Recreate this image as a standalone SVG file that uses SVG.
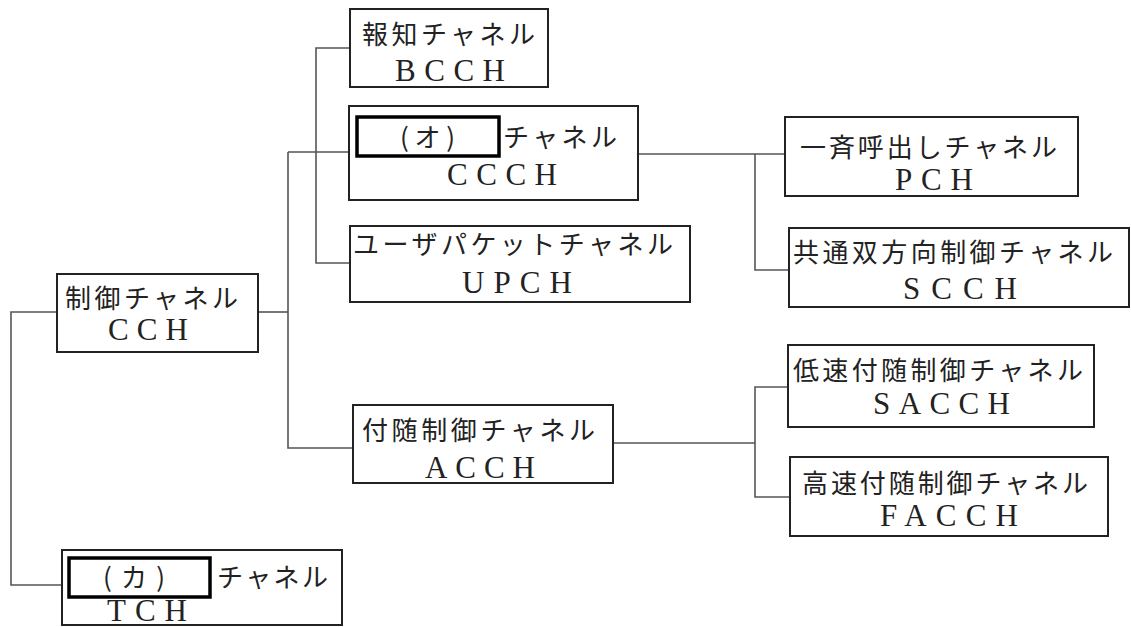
<svg xmlns="http://www.w3.org/2000/svg" width="1131" height="627" viewBox="0 0 1131 627">
<style>
.box{fill:#fff;stroke:#222;stroke-width:2}
.blank{fill:#fff;stroke:#000;stroke-width:3.5}
.jp{font-family:"Noto Sans CJK JP","Noto Sans",sans-serif;font-size:26px;fill:#222}
.en{font-family:"Liberation Serif",serif;font-size:31px;fill:#222}
.conn{fill:none;stroke:#555;stroke-width:1.6}
</style>
<rect width="1131" height="627" fill="#fff"/>
<g id="connectors" class="conn">
<path d="M57,312 H11 V585 H62"/>
<path d="M258,312 H288"/>
<path d="M288,152 V448 H353"/>
<path d="M288,152 H349"/>
<path d="M350,48 H316 V263 H350"/>
<path d="M638,154 H785"/>
<path d="M755,154 V270 H789"/>
<path d="M613,443 H755"/>
<path d="M788,387 H755 V497 H790"/>
</g>
<g id="bcch">
<rect class="box" x="350" y="9" width="198" height="78"/>
<text class="jp" x="362" y="44" textLength="173" lengthAdjust="spacing">報知チャネル</text>
<text class="en" x="395" y="81" textLength="110" lengthAdjust="spacing">BCCH</text>
</g>
<g id="ccch">
<rect class="box" x="349" y="106" width="289" height="94"/>
<rect class="blank" x="357" y="117" width="142" height="39"/>
<text class="jp" x="400" y="147" textLength="55" lengthAdjust="spacing">(オ)</text>
<text class="jp" x="503" y="147" textLength="114" lengthAdjust="spacing">チャネル</text>
<text class="en" x="447" y="185" textLength="110" lengthAdjust="spacing">CCCH</text>
</g>
<g id="upch">
<rect class="box" x="350" y="226" width="340" height="76"/>
<text class="jp" x="353" y="254" textLength="320" lengthAdjust="spacing">ユーザパケットチャネル</text>
<text class="en" x="462" y="293" textLength="110" lengthAdjust="spacing">UPCH</text>
</g>
<g id="pch">
<rect class="box" x="785" y="117" width="293" height="79"/>
<text class="jp" x="800" y="157" textLength="257" lengthAdjust="spacing">一斉呼出しチャネル</text>
<text class="en" x="895" y="190" textLength="78" lengthAdjust="spacing">PCH</text>
</g>
<g id="scch">
<rect class="box" x="789" y="228" width="340" height="79"/>
<text class="jp" x="793" y="262" textLength="320" lengthAdjust="spacing">共通双方向制御チャネル</text>
<text class="en" x="903" y="299" textLength="114" lengthAdjust="spacing">SCCH</text>
</g>
<g id="cch">
<rect class="box" x="57" y="274" width="201" height="78"/>
<text class="jp" x="65" y="308" textLength="173" lengthAdjust="spacing">制御チャネル</text>
<text class="en" x="108" y="340" textLength="80" lengthAdjust="spacing">CCH</text>
</g>
<g id="acch">
<rect class="box" x="353" y="405" width="260" height="78"/>
<text class="jp" x="362" y="440" textLength="233" lengthAdjust="spacing">付随制御チャネル</text>
<text class="en" x="425" y="478" textLength="110" lengthAdjust="spacing">ACCH</text>
</g>
<g id="sacch">
<rect class="box" x="788" y="345" width="306" height="82"/>
<text class="jp" x="793" y="380" textLength="290" lengthAdjust="spacing">低速付随制御チャネル</text>
<text class="en" x="873" y="414" textLength="137" lengthAdjust="spacing">SACCH</text>
</g>
<g id="facch">
<rect class="box" x="790" y="457" width="318" height="79"/>
<text class="jp" x="802" y="493" textLength="286" lengthAdjust="spacing">高速付随制御チャネル</text>
<text class="en" x="880" y="526" textLength="138" lengthAdjust="spacing">FACCH</text>
</g>
<g id="tch">
<rect class="box" x="62" y="550" width="280" height="75"/>
<rect class="blank" x="69" y="558" width="141" height="39"/>
<text class="jp" x="103" y="587" textLength="62" lengthAdjust="spacing">(カ)</text>
<text class="jp" x="217" y="587" textLength="111" lengthAdjust="spacing">チャネル</text>
<text class="en" x="107" y="621" textLength="80" lengthAdjust="spacing">TCH</text>
</g>
</svg>
